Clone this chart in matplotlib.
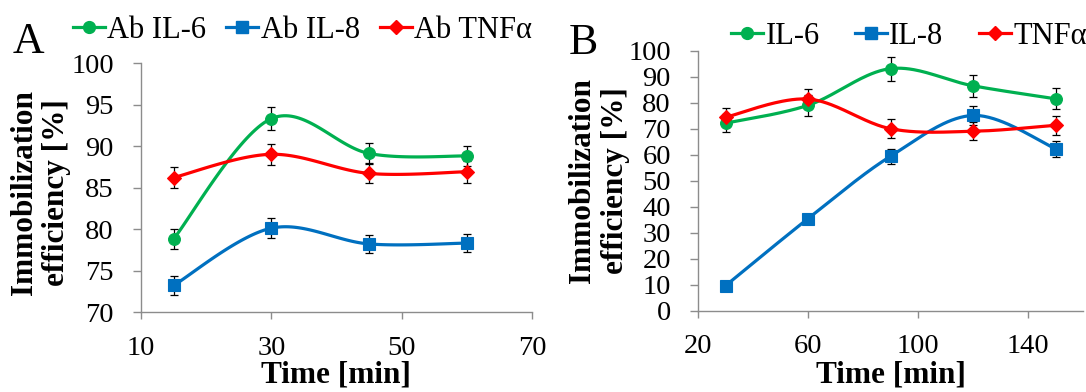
import numpy as np
import matplotlib
matplotlib.use("Agg")
import matplotlib.pyplot as plt
from matplotlib.lines import Line2D

# ---------------- data ----------------
time_a = [15, 30, 45, 60]
a_il6 = [78.8, 93.3, 89.1, 88.8]
a_il8 = [73.2, 80.1, 78.2, 78.3]
a_tnf = [86.2, 89.0, 86.7, 86.9]
a_il6_err = [1.2, 1.4, 1.3, 1.2]
a_il8_err = [1.1, 1.2, 1.1, 1.1]
a_tnf_err = [1.3, 1.3, 1.2, 1.3]
labels_a = ["Ab IL-6", "Ab IL-8", "Ab TNFα"]

time_b = [30, 60, 90, 120, 150]
b_il6 = [72.1, 79.0, 93.1, 86.5, 81.5]
b_il8 = [9.6, 35.4, 59.4, 75.1, 62.3]
b_tnf = [74.4, 81.4, 70.0, 69.0, 71.3]
b_il6_err = [3.5, 4.0, 4.6, 4.3, 4.0]
b_il8_err = [1.0, 1.5, 2.9, 3.5, 3.0]
b_tnf_err = [3.5, 4.0, 3.6, 3.5, 3.6]
labels_b = ["IL-6", "IL-8", "TNFα"]

colors = ["#00b050", "#0070c0", "#ff0000"]
markers = ["o", "s", "D"]

plt.rcParams['font.family'] = ['Liberation Serif', 'DejaVu Serif']


def smooth(x, y, n=40):
    """Excel-like smoothed line (Catmull-Rom style Bezier)."""
    x = np.asarray(x, float)
    y = np.asarray(y, float)
    pts = np.column_stack([x, y])
    out = []
    for i in range(len(pts) - 1):
        p0 = pts[i - 1] if i > 0 else pts[i]
        p1 = pts[i]
        p2 = pts[i + 1]
        p3 = pts[i + 2] if i + 2 < len(pts) else pts[i + 1]
        c1 = p1 + (p2 - p0) / 6.0
        c2 = p2 - (p3 - p1) / 6.0
        t = np.linspace(0, 1, n)[:, None]
        seg = ((1 - t) ** 3) * p1 + 3 * ((1 - t) ** 2) * t * c1 + 3 * (1 - t) * t ** 2 * c2 + t ** 3 * p2
        out.append(seg if i == 0 else seg[1:])
    s = np.vstack(out)
    return s[:, 0], s[:, 1]


fig = plt.figure(figsize=(10.86, 3.92), dpi=100)
axA = fig.add_axes([0.12983, 0.20408, 0.36004, 0.63520])
axB = fig.add_axes([0.64273, 0.2074, 0.35451, 0.66327])


def draw(ax, x, series, errs, labels, xlim, xticks, ylim, yticks, xlab_y, ylab_xy):
    handles = []
    for y, e, c, m, lab in zip(series, errs, colors, markers, labels):
        sx, sy = smooth(x, y)
        ax.plot(sx, sy, color=c, lw=2.3, zorder=2, solid_capstyle='round', clip_on=False)
        ax.errorbar(x, y, yerr=e, fmt='none', ecolor='black', elinewidth=0.9,
                    capsize=3, capthick=0.9, zorder=3, clip_on=False)
        ms = 8.5 if m != 'D' else 7.5
        ax.plot(x, y, linestyle='none', marker=m, markersize=ms, markerfacecolor=c,
                markeredgecolor=c, markeredgewidth=0.8, zorder=4, clip_on=False)
        handles.append(Line2D([0], [0], color=c, lw=2.3, marker=m,
                              markersize=ms, markerfacecolor=c, markeredgecolor=c))
    ax.set_xlim(*xlim)
    ax.set_ylim(*ylim)
    ax.set_xticks(xticks)
    ax.set_yticks(yticks)
    for s in ['top', 'right']:
        ax.spines[s].set_visible(False)
    for s in ['left', 'bottom']:
        ax.spines[s].set_color('#8c8c8c')
        ax.spines[s].set_linewidth(1.0)
    ax.tick_params(axis='both', direction='out', width=1.0,
                   color='#8c8c8c', labelsize=20.5)
    ax.tick_params(axis='y', length=6, pad=13.5)
    ax.tick_params(axis='x', length=5, pad=12)
    ax.set_xlabel("Time [min]", fontsize=22.5, fontweight='bold', va='baseline')
    ax.xaxis.set_label_coords(0.5, xlab_y)
    ax.set_ylabel("Immobilization\nefficiency [%]", fontsize=22.5, fontweight='bold',
                  linespacing=1.17, va='center', ha='center')
    ax.yaxis.set_label_coords(*ylab_xy)
    return handles


hA = draw(axA, time_a, [a_il6, a_il8, a_tnf], [a_il6_err, a_il8_err, a_tnf_err],
          labels_a, (10, 70), [10, 30, 50, 70], (70, 100), [70, 75, 80, 85, 90, 95, 100],
          -0.283, (-0.257, 0.478))
hB = draw(axB, time_b, [b_il6, b_il8, b_tnf], [b_il6_err, b_il8_err, b_tnf_err],
          labels_b, (20, 160), [20, 60, 100, 140], (0, 100), list(range(0, 101, 10)),
          -0.276, (-0.258, 0.5))

fig.legend(hA, labels_a, loc='center left', bbox_to_anchor=(0.067, 0.923),
           ncol=3, frameon=False, fontsize=22, handlelength=1.05, handletextpad=0.08,
           columnspacing=0.65, borderaxespad=0, borderpad=0)
fig.legend(hB, labels_b, loc='center left', bbox_to_anchor=(0.673, 0.908),
           ncol=3, frameon=False, fontsize=22, handlelength=1.05, handletextpad=0.08,
           columnspacing=1.15, borderaxespad=0, borderpad=0)

fig.text(0.012, 0.892, "A", fontsize=31.5, ha='left', va='center')
fig.text(0.524, 0.890, "B", fontsize=31.5, ha='left', va='center')

fig.savefig("out.png", dpi=100, facecolor='white')
